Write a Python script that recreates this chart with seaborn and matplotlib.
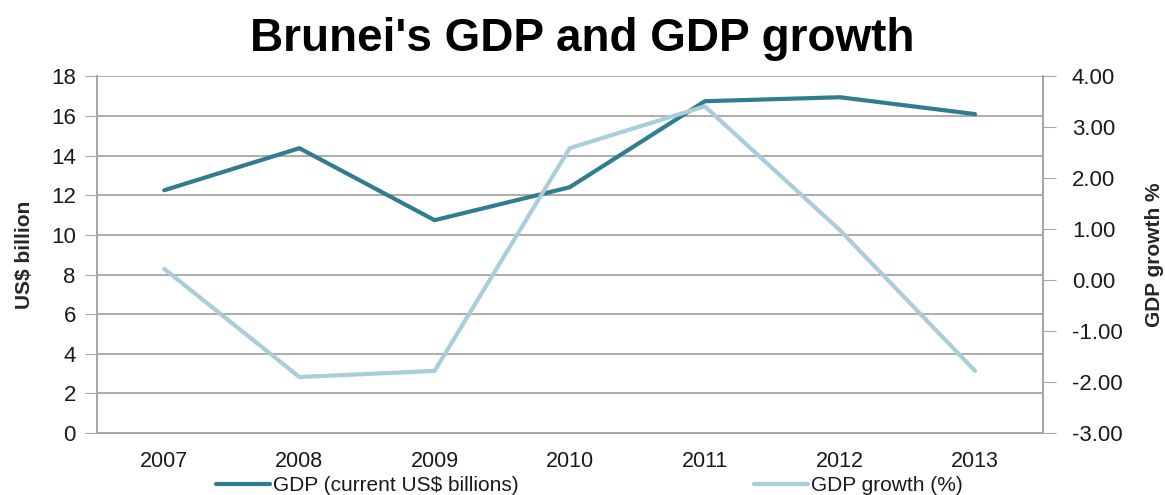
import pandas as pd
import seaborn as sns
import matplotlib.pyplot as plt

years = [2007, 2008, 2009, 2010, 2011, 2012, 2013]
gdp = [12.25, 14.37, 10.74, 12.40, 16.74, 16.94, 16.09]
growth = [0.22, -1.90, -1.78, 2.59, 3.41, 0.98, -1.78]

df = pd.DataFrame({"Year": years, "GDP": gdp, "Growth": growth})

dark = "#2f7d8e"
light = "#a9cdd9"
grid = "#a6a6a6"

sns.set_style("white")
plt.rcParams["font.family"] = ["Liberation Sans", "DejaVu Sans"]
plt.rcParams["text.color"] = "#1a1a1a"
plt.rcParams["xtick.color"] = "#1a1a1a"
plt.rcParams["ytick.color"] = "#1a1a1a"

fig, ax = plt.subplots(figsize=(11.65, 4.95), dpi=100)
fig.subplots_adjust(left=0.083, right=0.895, top=0.846, bottom=0.125)
ax2 = ax.twinx()

sns.lineplot(data=df, x="Year", y="GDP", ax=ax, color=dark, linewidth=3,
             label="GDP (current US$ billions)", legend=False)
sns.lineplot(data=df, x="Year", y="Growth", ax=ax2, color=light, linewidth=3,
             label="GDP growth (%)", legend=False)

ax.set_xlim(2006.5, 2013.5)
ax.set_ylim(0, 18)
ax.set_yticks(range(0, 19, 2))
ax2.set_ylim(-3, 4)
ax2.set_yticks(range(-3, 5))
ax2.set_yticklabels([f"{v:.2f}" for v in range(-3, 5)])

ax.set_xticks(years)
ax.set_xticks([y + 0.5 for y in [2006] + years], minor=True)
ax.tick_params(axis="x", which="major", length=0, pad=13, labelsize=15.5)
ax.tick_params(axis="x", which="minor", length=5, color=grid, direction="out")

ax.grid(axis="y", color=grid, linewidth=1.3)
ax.set_axisbelow(True)
ax.tick_params(axis="y", length=9, color=grid, labelsize=16, left=True, pad=6)
ax2.tick_params(axis="y", length=9, color=grid, labelsize=16, right=True, pad=12)
for a in (ax, ax2):
    a.spines["top"].set_visible(False)
    for s in ("left", "right", "bottom"):
        a.spines[s].set_color(grid)
        a.spines[s].set_linewidth(1.3)

ax.set_xlabel("")
ax.set_ylabel("US$ billion", fontsize=15, fontweight="bold",
              fontstretch="condensed", labelpad=12)
ax2.set_ylabel("GDP growth %", fontsize=15, fontweight="bold",
               fontstretch="condensed", labelpad=16)

fig.suptitle("Brunei's GDP and GDP growth", fontsize=33, fontweight="bold",
             color="black", x=0.5, y=0.965)

h1, l1 = ax.get_legend_handles_labels()
h2, l2 = ax2.get_legend_handles_labels()
fig.legend(h1 + h2, l1 + l2, loc="lower center", bbox_to_anchor=(0.506, -0.038),
           ncol=2, frameon=False, columnspacing=11.3, handlelength=2.6,
           handletextpad=0.15, prop={"size": 15})

fig.savefig("out.png", dpi=100)
